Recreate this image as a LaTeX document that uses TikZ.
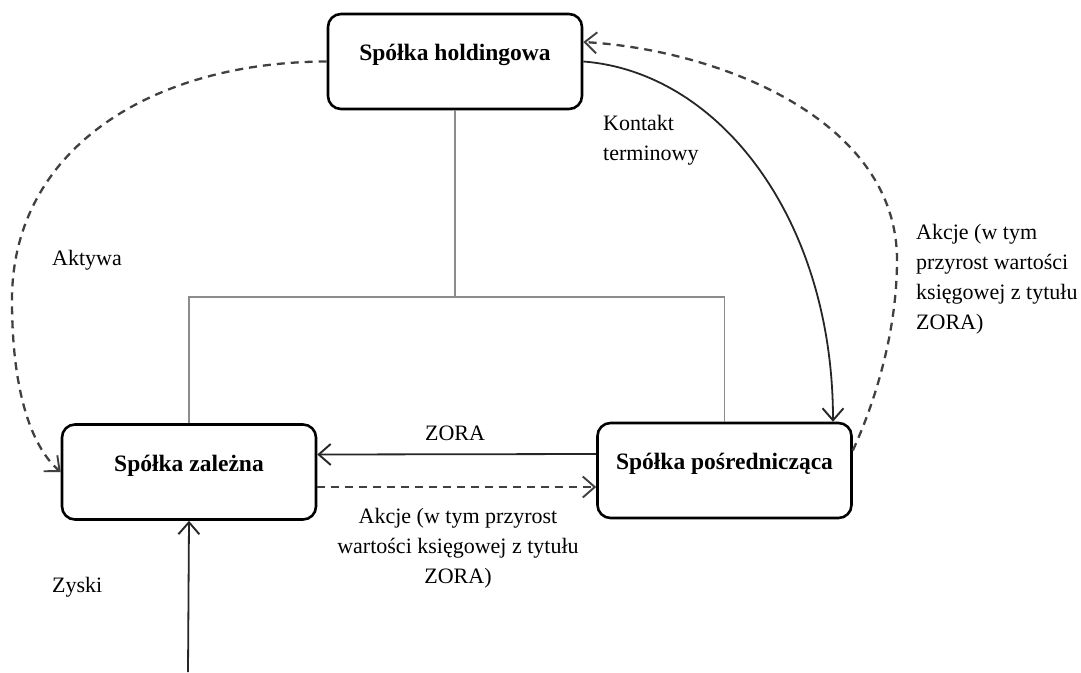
\documentclass[tikz,border=0pt]{standalone}
\usepackage{fontspec}
\setmainfont{Liberation Serif}
\usetikzlibrary{arrows.meta}
\begin{document}
\begin{tikzpicture}[x=1pt,y=-1pt,
  box/.style={draw=black, line width=2.6pt, rounded corners=13pt, minimum width=254pt, minimum height=95pt,
    font=\fontsize{23.5}{26}\selectfont\bfseries, inner sep=0pt, text height=15pt, text depth=17pt},
  lbl/.style={font=\fontsize{22}{30}\selectfont, inner sep=0pt},
  tip/.style={-{Straight Barb[length=12pt,width=21pt,line width=1.9pt]}},
  solidc/.style={draw=black!85, line width=1.8pt},
  dashc/.style={draw=black!75, line width=2.3pt, dash pattern=on 8pt off 6pt},
  tree/.style={draw=black!45, line width=1.6pt}]
\useasboundingbox (0,0) rectangle (1081,672);

\node[box] (hold) at (455,61.5) {Spółka holdingowa};
\node[box] (zal) at (189,472) {Spółka zależna};
\node[box] (pos) at (724.5,470.5) {Spółka pośrednicząca};

% ownership tree
\coordinate (j) at (455,297);
\coordinate (bot) at (188,672);
\draw[tree] (hold.south) -- (j);
\draw[tree] (zal.north) |- (j) -| (pos.north);

% ZORA arrows
\draw[solidc, tip] ([yshift=16.5pt]pos.west) -- ([yshift=17.5pt]zal.east);
\draw[dashc, tip] ([yshift=-15pt]zal.east) -- ([yshift=-16.5pt]pos.west);

% left dashed curve (Aktywa)
\draw[dashc, tip] (hold.west) .. controls (150,62) and (12,150) .. (12,300)
  .. controls (12,400) and (35,450) .. (zal.west);

% right solid curve (Kontakt terminowy)
\draw[solidc, tip] (hold.east) .. controls (720,72) and (833,220) .. ([xshift=108.5pt]pos.north);

% right dashed curve (Akcje)
\draw[dashc, tip] ([yshift=20pt]pos.east) .. controls (876,400) and (897,330) .. (897,260)
  .. controls (897,120) and (720,50) .. ([yshift=19.5pt]hold.east);

% Zyski
\draw[solidc, tip] (bot) -- (zal.south);

% labels
\node[lbl] (lzora) at (455,433) {ZORA};
\node[lbl, anchor=north, align=center] (lakb) at (458,508) {Akcje (w tym przyrost\\wartości księgowej z tytułu\\ZORA)};
\node[lbl, anchor=north west, align=left] (lkon) at (603,115) {Kontakt\\terminowy};
\node[lbl, anchor=north west, align=left] (lakr) at (916,224) {Akcje (w tym\\przyrost wartości\\księgowej z tytułu\\ZORA)};
\node[lbl, anchor=west] (lakt) at (52,260) {Aktywa};
\node[lbl, anchor=west] (lzys) at (52,587) {Zyski};
\end{tikzpicture}
\end{document}
